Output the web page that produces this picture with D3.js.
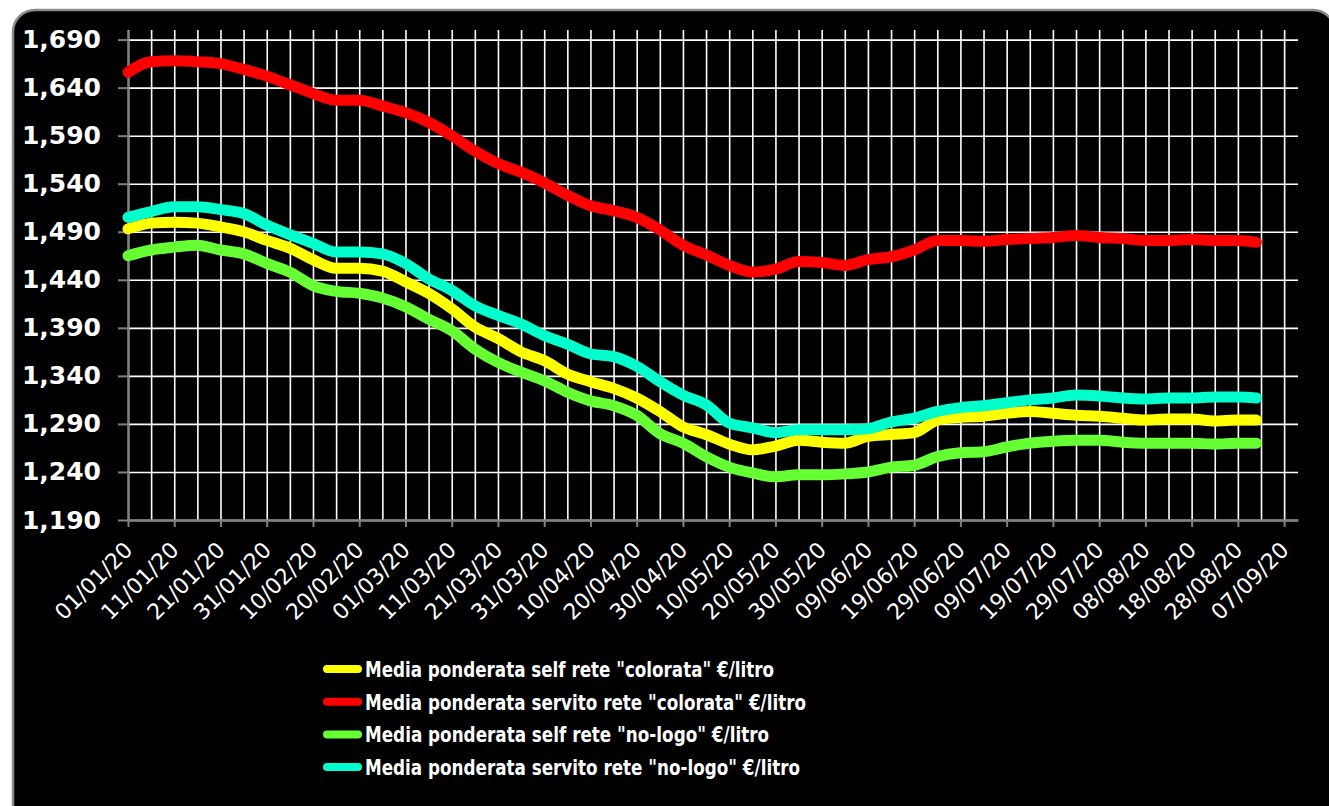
<!DOCTYPE html>
<html>
<head>
<meta charset="utf-8">
<script src="https://cdn.jsdelivr.net/npm/d3@7"></script>
<style>
  body { margin: 0; background: #fff; }
</style>
</head>
<body>
<script>
var w = 1329;
var h = 806;

// one reading every 5 days, last one on 01/09
var dates = ["01/01/20", "06/01/20", "11/01/20", "16/01/20", "21/01/20", "26/01/20", "31/01/20",
             "05/02/20", "10/02/20", "15/02/20", "20/02/20", "25/02/20", "01/03/20", "06/03/20",
             "11/03/20", "16/03/20", "21/03/20", "26/03/20", "31/03/20", "05/04/20", "10/04/20",
             "15/04/20", "20/04/20", "25/04/20", "30/04/20", "05/05/20", "10/05/20", "15/05/20",
             "20/05/20", "25/05/20", "30/05/20", "04/06/20", "09/06/20", "14/06/20", "19/06/20",
             "24/06/20", "29/06/20", "04/07/20", "09/07/20", "14/07/20", "19/07/20", "24/07/20",
             "29/07/20", "03/08/20", "08/08/20", "13/08/20", "18/08/20", "23/08/20", "28/08/20",
             "01/09/20"];

var selfColorata = [1.493, 1.499, 1.500, 1.499, 1.495, 1.490, 1.481, 1.473, 1.461, 1.452,
                    1.452, 1.449, 1.438, 1.426, 1.410, 1.391, 1.379, 1.365, 1.356, 1.342,
                    1.334, 1.327, 1.317, 1.303, 1.287, 1.279, 1.269, 1.263, 1.267, 1.273,
                    1.271, 1.270, 1.277, 1.279, 1.281, 1.294, 1.297, 1.298, 1.301, 1.303,
                    1.301, 1.299, 1.298, 1.296, 1.294, 1.295, 1.295, 1.293, 1.294, 1.294];

var servitoColorata = [1.656, 1.667, 1.668, 1.667, 1.665, 1.659, 1.652, 1.643, 1.634, 1.627,
                       1.627, 1.621, 1.614, 1.604, 1.590, 1.574, 1.561, 1.552, 1.541, 1.528,
                       1.517, 1.512, 1.505, 1.492, 1.476, 1.466, 1.455, 1.448, 1.451, 1.459,
                       1.458, 1.455, 1.461, 1.464, 1.471, 1.481, 1.481, 1.480, 1.482, 1.483,
                       1.484, 1.486, 1.484, 1.483, 1.481, 1.481, 1.482, 1.481, 1.481, 1.479];

var selfNoLogo = [1.465, 1.471, 1.474, 1.476, 1.471, 1.467, 1.457, 1.448, 1.434, 1.428,
                  1.426, 1.421, 1.412, 1.399, 1.387, 1.368, 1.354, 1.344, 1.335, 1.323,
                  1.314, 1.309, 1.299, 1.280, 1.270, 1.256, 1.245, 1.239, 1.235, 1.237,
                  1.237, 1.238, 1.240, 1.245, 1.247, 1.256, 1.260, 1.261, 1.266, 1.270,
                  1.272, 1.273, 1.273, 1.271, 1.270, 1.270, 1.270, 1.269, 1.270, 1.270];

var servitoNoLogo = [1.505, 1.511, 1.516, 1.516, 1.513, 1.509, 1.497, 1.487, 1.478, 1.469,
                     1.469, 1.467, 1.457, 1.441, 1.429, 1.413, 1.403, 1.394, 1.382, 1.373,
                     1.363, 1.360, 1.350, 1.334, 1.320, 1.310, 1.291, 1.286, 1.281, 1.284,
                     1.284, 1.284, 1.285, 1.292, 1.296, 1.303, 1.307, 1.309, 1.312, 1.315,
                     1.317, 1.320, 1.319, 1.317, 1.316, 1.317, 1.317, 1.318, 1.318, 1.317];

var seriesNames = ['Media ponderata self rete "colorata" €/litro',
                   'Media ponderata servito rete "colorata" €/litro',
                   'Media ponderata self rete "no-logo" €/litro',
                   'Media ponderata servito rete "no-logo" €/litro'];
var seriesColors = ["#ffff00", "#ff0000", "#66ff33", "#00ffcc"];

var xTickLabels = ["01/01/20", "11/01/20", "21/01/20", "31/01/20", "10/02/20", "20/02/20",
                   "01/03/20", "11/03/20", "21/03/20", "31/03/20", "10/04/20", "20/04/20",
                   "30/04/20", "10/05/20", "20/05/20", "30/05/20", "09/06/20", "19/06/20",
                   "29/06/20", "09/07/20", "19/07/20", "29/07/20", "08/08/20", "18/08/20",
                   "28/08/20", "07/09/20"];
var yTicks = [1.19, 1.24, 1.29, 1.34, 1.39, 1.44, 1.49, 1.54, 1.59, 1.64, 1.69];

var parse = d3.timeParse("%d/%m/%y");
var itFormat = d3.formatLocale({decimal: ",", thousands: ".", grouping: [3], currency: ["", "€"]}).format(".3f");

var series = [selfColorata, servitoColorata, selfNoLogo, servitoNoLogo].map(function(vals, i) {
    return {
        name: seriesNames[i],
        color: seriesColors[i],
        values: vals.map(function(v, j) { return {date: parse(dates[j]), value: v}; })
    };
});

var plot = {left: 128, right: 1298, top: 30, bottom: 520};

var x = d3.scaleTime()
          .domain([parse("01/01/20"), parse("10/09/20")])
          .range([plot.left, plot.right]);

var y = d3.scaleLinear()
          .domain([1.19, 1.70])
          .range([plot.bottom, plot.top]);

var svg = d3.select("body")
            .append("svg")
            .attr("width", w)
            .attr("height", h)
            .style("display", "block");

// rounded black frame
svg.append("rect")
   .attr("x", 13)
   .attr("y", 10)
   .attr("width", 1322)
   .attr("height", 820)
   .attr("rx", 22)
   .attr("fill", "#000")
   .attr("stroke", "#8a8a8a")
   .attr("stroke-width", 2.5);

// grid
var gridDates = d3.timeDay.range(parse("01/01/20"), parse("08/09/20"), 5);

svg.append("g")
   .attr("class", "grid-x")
   .attr("transform", "translate(0," + plot.bottom + ")")
   .call(d3.axisBottom(x).tickValues(gridDates).tickSize(-(plot.bottom - plot.top)).tickFormat(""))
   .call(function(g) { g.select(".domain").remove(); })
   .selectAll("line")
   .attr("stroke", "#fff")
   .attr("stroke-width", 1.6);

svg.append("g")
   .attr("class", "grid-y")
   .attr("transform", "translate(" + plot.left + ",0)")
   .call(d3.axisLeft(y).tickValues(yTicks).tickSize(-(plot.right - plot.left)).tickFormat(""))
   .call(function(g) { g.select(".domain").remove(); })
   .selectAll("line")
   .attr("stroke", "#fff")
   .attr("stroke-width", 1.6);

// axes
var yAxis = svg.append("g")
               .attr("transform", "translate(" + plot.left + ",0)")
               .call(d3.axisLeft(y).tickValues(yTicks).tickSize(10).tickSizeOuter(0).tickPadding(17).tickFormat(itFormat));

yAxis.select(".domain").attr("stroke", "#808080").attr("stroke-width", 2);
yAxis.selectAll("line").attr("stroke", "#808080").attr("stroke-width", 2);
yAxis.selectAll("text")
     .attr("fill", "#fff")
     .attr("font-family", "DejaVu Sans, Verdana, sans-serif")
     .attr("font-weight", "bold")
     .attr("font-size", "25px");

var xAxis = svg.append("g")
               .attr("transform", "translate(0," + plot.bottom + ")")
               .call(d3.axisBottom(x).tickValues(xTickLabels.map(parse)).tickSize(7).tickSizeOuter(0)
                       .tickFormat(d3.timeFormat("%d/%m/%y")));

xAxis.select(".domain").attr("stroke", "#808080").attr("stroke-width", 2.5);
xAxis.selectAll("line").attr("stroke", "#808080").attr("stroke-width", 2);
xAxis.selectAll("text")
     .attr("fill", "#fff")
     .attr("font-family", "DejaVu Sans, Verdana, sans-serif")
     .attr("font-size", "22px")
     .attr("text-anchor", "end")
     .attr("y", 0)
     .attr("dy", "0.35em")
     .attr("transform", "translate(0,26) rotate(-45)");

// lines
var line = d3.line()
             .curve(d3.curveMonotoneX)
             .x(function(d) { return x(d.date); })
             .y(function(d) { return y(d.value); });

svg.append("g")
   .selectAll("path")
   .data(series)
   .enter()
   .append("path")
   .attr("d", function(d) { return line(d.values); })
   .attr("fill", "none")
   .attr("stroke", function(d) { return d.color; })
   .attr("stroke-width", 11)
   .attr("stroke-linejoin", "round")
   .attr("stroke-linecap", "round");

// legend
var legendWidths = [409, 441, 404, 435];

var legend = svg.append("g")
                .selectAll("g")
                .data(series)
                .enter()
                .append("g")
                .attr("transform", function(d, i) { return "translate(0," + (669 + i * 32.7) + ")"; });

legend.append("line")
      .attr("x1", 327)
      .attr("x2", 358)
      .attr("stroke", function(d) { return d.color; })
      .attr("stroke-width", 8)
      .attr("stroke-linecap", "round");

legend.append("text")
      .attr("x", 365)
      .attr("y", 8)
      .attr("fill", "#fff")
      .attr("font-family", "DejaVu Sans Condensed, DejaVu Sans, sans-serif")
      .attr("font-weight", "bold")
      .attr("font-size", "22px")
      .attr("textLength", function(d, i) { return legendWidths[i]; })
      .attr("lengthAdjust", "spacingAndGlyphs")
      .text(function(d) { return d.name; });
</script>
</body>
</html>
